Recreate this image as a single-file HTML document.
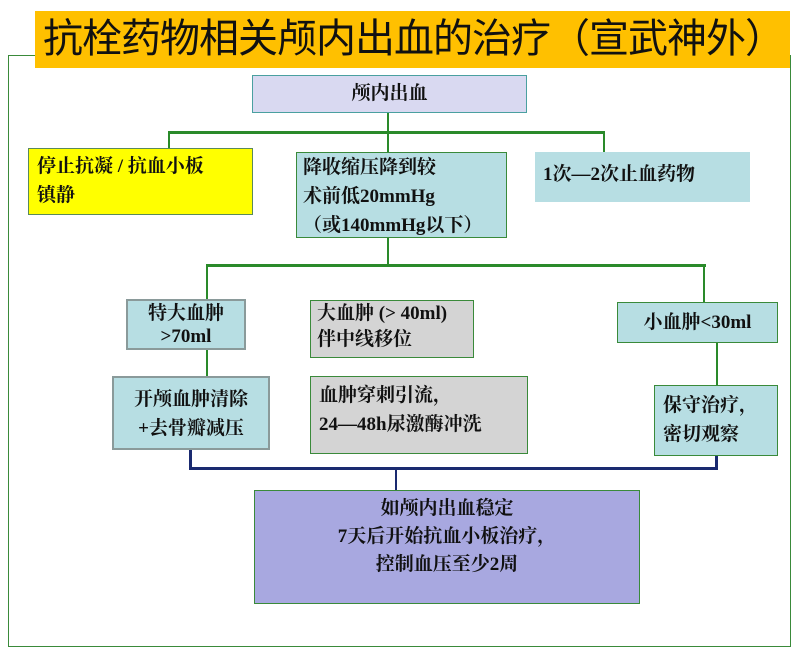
<!DOCTYPE html><html><head><meta charset="utf-8"><style>
body{margin:0;width:800px;height:657px;background:#fff;position:relative;overflow:hidden;font-family:"Liberation Serif","Noto Serif CJK SC","Noto Sans CJK SC",serif;}
.a{position:absolute;box-sizing:border-box;}
.b{font-weight:bold;font-size:19px;line-height:29px;color:#111;}
.l{position:absolute;background:#2a8a2a;}
.n{position:absolute;background:#1a2a70;}
</style></head><body>
<div class="a" style="left:8px;top:55px;width:783px;height:592px;border:1px solid #3a8a3a;"></div>
<div class="a" style="left:35px;top:11px;width:755px;height:57px;background:#FFC000;font-family:'Liberation Sans','Noto Sans CJK SC',sans-serif;font-size:40px;letter-spacing:-1px;line-height:57px;padding-left:8px;color:#111;white-space:nowrap;overflow:hidden;">抗栓药物相关颅内出血的治疗（宣武神外）</div>
<div class="a b" style="left:252px;top:75px;width:275px;height:38px;background:#D9D9F1;border:1px solid #4aa0a0;text-align:center;line-height:36px;">颅内出血</div>
<div class="l" style="left:387px;top:113px;width:2px;height:152px"></div>
<div class="l" style="left:168px;top:131px;width:437px;height:3px"></div>
<div class="l" style="left:168px;top:131px;width:2px;height:18px"></div>
<div class="l" style="left:603px;top:131px;width:2px;height:21px"></div>
<div class="a b" style="left:28px;top:148px;width:225px;height:67px;background:#FFFF00;border:1px solid #5a8a5a;padding:3px 8px;">停止抗凝 / 抗血小板<br>镇静</div>
<div class="a b" style="left:296px;top:152px;width:211px;height:86px;background:#B7DEE3;border:1px solid #3a8a3a;padding:0 6px;">降收缩压降到较<br>术前低20mmHg<br>（或140mmHg以下）</div>
<div class="a b" style="left:535px;top:152px;width:215px;height:50px;background:#B7DEE3;padding:8px 8px;">1次—2次止血药物</div>
<div class="l" style="left:206px;top:264px;width:500px;height:3px"></div>
<div class="l" style="left:206px;top:264px;width:2px;height:35px"></div>
<div class="l" style="left:703px;top:264px;width:2px;height:38px"></div>
<div class="a b" style="left:126px;top:299px;width:120px;height:51px;background:#B7DEE3;border:2px solid #8a9a9a;text-align:center;line-height:23px;padding-top:1px;">特大血肿<br>&gt;70ml</div>
<div class="a b" style="left:310px;top:300px;width:164px;height:58px;background:#D4D4D4;border:1px solid #3a8a3a;padding:0 6px;line-height:26px;">大血肿 (&gt; 40ml)<br>伴中线移位</div>
<div class="a b" style="left:617px;top:302px;width:161px;height:41px;background:#B7DEE3;border:1px solid #3a8a3a;text-align:center;line-height:39px;">小血肿&lt;30ml</div>
<div class="l" style="left:206px;top:350px;width:2px;height:26px"></div>
<div class="l" style="left:716px;top:343px;width:2px;height:42px"></div>
<div class="a b" style="left:112px;top:376px;width:158px;height:74px;background:#B7DEE3;border:2px solid #8a9a9a;text-align:center;padding-top:7px;">开颅血肿清除<br>+去骨瓣减压</div>
<div class="a b" style="left:310px;top:376px;width:218px;height:78px;background:#D4D4D4;border:1px solid #3a8a3a;padding:4px 8px;">血肿穿刺引流，<br>24—48h尿激酶冲洗</div>
<div class="a b" style="left:654px;top:385px;width:124px;height:71px;background:#B7DEE3;border:1px solid #3a8a3a;padding:5px 8px;">保守治疗，<br>密切观察</div>
<div class="n" style="left:189px;top:450px;width:3px;height:20px"></div>
<div class="n" style="left:715px;top:456px;width:3px;height:14px"></div>
<div class="n" style="left:189px;top:467px;width:529px;height:3px"></div>
<div class="n" style="left:395px;top:467px;width:2px;height:23px"></div>
<div class="a b" style="left:254px;top:490px;width:386px;height:114px;background:#A8A8E0;border:1px solid #3a8a3a;text-align:center;padding-top:4px;line-height:28px;">如颅内出血稳定<br>7天后开始抗血小板治疗，<br>控制血压至少2周</div>
</body></html>
